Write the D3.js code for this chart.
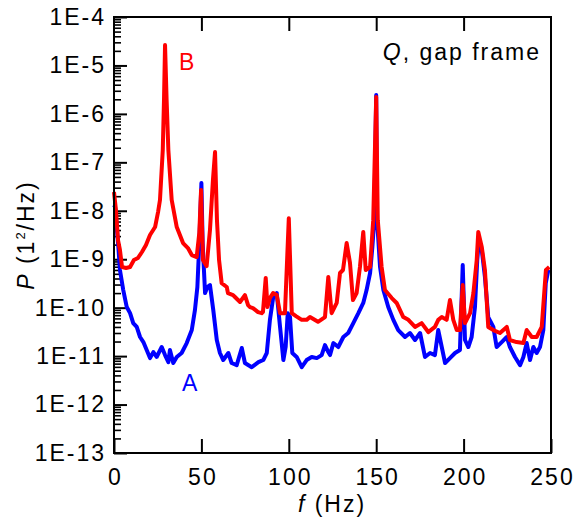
<!DOCTYPE html>
<html><head><meta charset="utf-8">
<script src="https://cdn.jsdelivr.net/npm/d3@7"></script>
<style>body{margin:0;background:#fff}svg{display:block}text{font-family:"Liberation Sans",Arial,sans-serif}</style>
</head><body><svg id="c" width="580" height="524"></svg>
<script>
// Series A (blue): frequency (Hz) and power (1^2/Hz)
const freqA = [0,0.6,2.5,3.4,5.3,7.3,9.2,11.0,13.0,14.9,16.8,18.7,20.6,22.5,24.4,27.3,29.2,31.1,32.0,33.9,35.9,38.7,41.6,44.5,46.3,47.7,48.8,50,50.7,52.1,53.4,54.9,56.8,58.8,60.6,62.5,65.4,67.3,70.2,73.1,74.9,78.8,82.6,85.4,87.4,89.2,91.1,93.1,95.0,96.9,98.2,99.4,100.7,102.0,104.5,107.4,110.2,113.1,116.0,118.8,120.7,122.6,123.6,125.5,128.3,131.2,134.0,136.9,139.8,142.6,144.5,146.5,147.8,148.9,150,150.5,152.2,154.1,156.9,159.8,162.6,166.5,169.3,172.2,175.1,177.9,180.8,183.6,185.5,187.5,189.4,192.2,195.1,197.9,199.5,200.8,202.7,204.6,206.5,207.8,208.8,210.4,212.2,214.1,217.0,218.9,221.8,224.7,226.5,229.4,232.3,234.2,236.1,238.0,239.9,241.8,243.7,245.6,247.0,248.5];
const powA = [1.31e-8,1.2e-8,1.79e-9,6.0e-10,2.31e-10,1.03e-10,7.7e-11,4.8e-11,4.0e-11,2.48e-11,1.95e-11,1.34e-11,9.1e-12,1.21e-11,9.6e-12,1.54e-11,1.05e-11,7.5e-12,1.34e-11,7.2e-12,9.6e-12,1.16e-11,1.86e-11,3.45e-11,8.9e-11,2.67e-10,2.16e-9,3.74e-8,2.16e-9,2.0e-10,2.67e-10,2.93e-10,8.9e-11,2.15e-11,1.16e-11,8.3e-12,1.16e-11,7.2e-12,6.5e-12,1.47e-11,7.2e-12,5.9e-12,7.5e-12,8.3e-12,1.16e-11,5.6e-11,1.66e-10,2.0e-10,4.0e-11,8.3e-12,1.54e-11,7.7e-11,6.4e-11,1.16e-11,9.6e-12,5.9e-12,8.3e-12,9.6e-12,9.1e-12,1.05e-11,1.69e-11,1.21e-11,1.05e-11,1.86e-11,1.54e-11,2.48e-11,3.0e-11,4.8e-11,7.7e-11,1.25e-10,2.31e-10,5.2e-10,1.79e-9,6.4e-9,2.45e-6,6.4e-9,6.9e-10,2.31e-10,1.03e-10,5.6e-11,3.45e-11,2.48e-11,3.0e-11,2.15e-11,3.0e-11,9.6e-12,1.16e-11,1.05e-11,3.45e-11,1.54e-11,7.2e-12,9.1e-12,1.16e-11,1.34e-11,7.6e-10,2.15e-11,1.54e-11,2.48e-11,1.03e-10,9.6e-10,2.49e-9,1.55e-9,4.3e-10,6.4e-11,4.0e-11,1.54e-11,1.95e-11,2.48e-11,1.54e-11,9.6e-12,6.5e-12,9.6e-12,1.86e-11,8.3e-12,1.54e-11,1.16e-11,1.54e-11,3.45e-11,3.2e-10,6.0e-10];

// Series B (red)
const freqB = [0,1.1,2.3,3.4,4.6,6.9,9.2,11.4,13.7,16.0,18.3,20.6,23.5,25.2,26.3,27.9,28.6,29.2,30.1,31.1,33.0,35.9,39.5,42.3,44.5,47.3,48.8,49.8,50.9,53.0,54.9,56.6,57.8,58.9,60.1,61.6,64.5,65.2,68.1,69.2,72.1,74.9,76.7,77.8,79.5,82.4,84.5,85.2,86.8,87.8,89.2,91.0,93.1,95.0,97.8,100,101.7,104.1,107.4,110.2,112.1,116.7,120.7,122.6,124.5,127.4,129.3,131.0,133.1,135.0,136.7,138.8,140.7,142.6,144.0,146.5,148.3,150,150.9,153.1,155.0,158.9,161.7,165.5,168.4,172.2,176.0,179.8,183.6,185.5,187.5,190.3,192.2,194.1,196.1,197.9,199.5,200.8,203.7,205.6,207.5,208.4,210.4,212.2,214.1,217.0,220.8,224.7,226.5,230.3,234.2,236.1,239.0,241.8,244.7,247.1,249.0];
const powB = [2.44e-8,1.04e-8,2.49e-9,1.55e-9,6.9e-10,6.6e-10,6.9e-10,9.6e-10,1.06e-9,1.41e-9,1.96e-9,3.16e-9,4.62e-9,9.4e-9,1.67e-8,1.79e-7,1.94e-6,2.64e-5,1.94e-6,1.79e-7,1.67e-8,4.62e-9,2.16e-9,1.70e-9,1.22e-9,1.11e-9,3.48e-9,2.69e-8,9.6e-10,7.2e-10,4.0e-9,4.3e-8,1.63e-7,6.4e-9,9.6e-10,3.2e-10,2.67e-10,2.0e-10,1.82e-10,1.66e-10,1.31e-10,1.82e-10,1.13e-10,1.03e-10,9.8e-11,8.1e-11,7.7e-11,8.1e-11,4.1e-10,1.03e-10,1.58e-10,2.0e-10,1.82e-10,7.7e-11,7.7e-11,7.0e-9,7.7e-11,6.7e-11,5.6e-11,5.6e-11,6.4e-11,5.1e-11,6.4e-11,4.3e-10,7.7e-11,1.25e-10,5.2e-10,6.0e-10,2.16e-9,8.4e-10,1.44e-10,2.0e-10,6.9e-10,3.65e-9,6.0e-10,6.9e-10,6.4e-9,2.23e-6,6.4e-9,6.9e-10,2.31e-10,1.58e-10,1.25e-10,6.4e-11,5.6e-11,4.0e-11,4.8e-11,3.14e-11,4.0e-11,5.6e-11,6.4e-11,5.6e-11,1.44e-10,5.6e-11,3.45e-11,3.45e-11,2.93e-10,4.8e-11,7.7e-11,2.0e-10,9.6e-10,3.65e-9,1.79e-9,6.0e-10,4.0e-11,3.45e-11,3.0e-11,4.0e-11,2.15e-11,1.95e-11,1.86e-11,3.45e-11,2.48e-11,2.48e-11,4.0e-11,6.0e-10,6.9e-10];

const xTicks = [0,50,100,150,200,250];
const yTicks = [1e-13,1e-12,1e-11,1e-10,1e-9,1e-8,1e-7,1e-6,1e-5,1e-4];
const yTickLabels = ["1E-13","1E-12","1E-11","1E-10","1E-9","1E-8","1E-7","1E-6","1E-5","1E-4"];

const svg = d3.select("#c");
const L = 114, R = 551, T = 17, B = 453;
const x = d3.scaleLinear().domain([0,250]).range([L,R]);
const y = d3.scaleLog().domain([1e-13,1e-4]).range([B,T]);

const FS = 23, LS = 2;

// minor log ticks
const minor = [];
yTicks.slice(0,-1).forEach(d => { for (let k=2;k<=9;k++) minor.push(d*k); });

const gMinor = svg.append("g").attr("transform",`translate(${L},0)`)
  .call(d3.axisLeft(y).tickValues(minor).tickSizeInner(-7).tickSizeOuter(0).tickFormat(""));
gMinor.select(".domain").remove();
gMinor.selectAll("line").attr("stroke","#000").attr("stroke-width",1.6);

const gy = svg.append("g").attr("transform",`translate(${L},0)`)
  .call(d3.axisLeft(y).tickValues(yTicks).tickSizeInner(-13).tickSizeOuter(0).tickPadding(10)
    .tickFormat((d,i) => yTickLabels[i]));
gy.select(".domain").remove();
gy.selectAll("line").attr("stroke","#000").attr("stroke-width",2);
gy.selectAll("text").attr("font-size",FS).attr("letter-spacing",LS).attr("fill","#000")
  .attr("font-family","Liberation Sans, Arial, sans-serif").attr("dx",LS);

const gx = svg.append("g").attr("transform",`translate(0,${B})`)
  .call(d3.axisBottom(x).tickValues(xTicks).tickSizeInner(-14).tickSizeOuter(0).tickPadding(16));
gx.select(".domain").remove();
gx.selectAll("line").attr("stroke","#000").attr("stroke-width",2);
gx.selectAll("text").attr("font-size",FS).attr("letter-spacing",LS).attr("fill","#000")
  .attr("font-family","Liberation Sans, Arial, sans-serif").attr("dx",LS/2);

const gt = svg.append("g").attr("transform",`translate(0,${T})`)
  .call(d3.axisTop(x).tickValues(xTicks.slice(1,-1)).tickSizeInner(-14).tickSizeOuter(0).tickFormat(""));
gt.select(".domain").remove();
gt.selectAll("line").attr("stroke","#000").attr("stroke-width",2);

// lines
const line = d3.line().x(d => x(d[0])).y(d => y(d[1]));
const dataA = freqA.map((f,i) => [f, powA[i]]);
const dataB = freqB.map((f,i) => [f, powB[i]]);
svg.append("path").datum(dataA).attr("d",line).attr("fill","none")
  .attr("stroke","#0000ff").attr("stroke-width",4).attr("stroke-linejoin","round");
svg.append("path").datum(dataB).attr("d",line).attr("fill","none")
  .attr("stroke","#ff0000").attr("stroke-width",4).attr("stroke-linejoin","round");

// frame
svg.append("rect").attr("x",L).attr("y",T).attr("width",R-L).attr("height",B-T)
  .attr("fill","none").attr("stroke","#000").attr("stroke-width",2);

// labels
svg.append("text").attr("x",332).attr("y",512).attr("text-anchor","middle")
  .attr("font-size",FS).attr("letter-spacing",LS)
  .html('<tspan font-style="italic">f</tspan> (Hz)');

const yl = svg.append("text").attr("transform","translate(34,235) rotate(-90)")
  .attr("text-anchor","middle").attr("font-size",FS).attr("letter-spacing",LS);
yl.append("tspan").attr("font-style","italic").text("P");
yl.append("tspan").text(" (1");
yl.append("tspan").attr("font-size",13).attr("dy",-9).text("2");
yl.append("tspan").attr("dy",9).text("/Hz)");

const q = svg.append("text").attr("x",541).attr("y",60).attr("text-anchor","end")
  .attr("font-size",FS).attr("letter-spacing",LS);
q.append("tspan").attr("font-style","italic").text("Q");
q.append("tspan").text(", gap frame");

svg.append("text").attr("x",179).attr("y",70).attr("font-size",FS).attr("fill","#ff0000").text("B");
svg.append("text").attr("x",182).attr("y",391).attr("font-size",FS).attr("fill","#0000ff").text("A");
</script></body></html>
